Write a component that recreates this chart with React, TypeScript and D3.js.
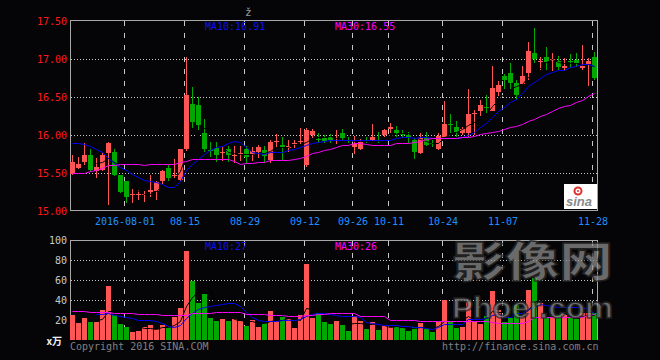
import React, { useEffect } from "react";
import * as d3 from "d3";

const dates = [
  "07-19","07-20","07-21","07-22","07-25","07-26","07-27","07-28","07-29",
  "08-01","08-02","08-03","08-04","08-05","08-08","08-09","08-10","08-11","08-12",
  "08-15","08-16","08-17","08-18","08-19","08-22","08-23","08-24","08-25","08-26",
  "08-29","08-30","08-31","09-01","09-02","09-05","09-06","09-07","09-08","09-09",
  "09-12","09-13","09-14","09-19","09-20","09-21","09-22","09-23",
  "09-26","09-27","09-28","09-29","09-30","10-10","10-11","10-12","10-13","10-14",
  "10-17","10-18","10-19","10-20","10-21","10-24","10-25","10-26","10-27","10-28",
  "10-31","11-01","11-02","11-03","11-04","11-07","11-08","11-09","11-10","11-11",
  "11-14","11-15","11-16","11-17","11-18","11-21","11-22","11-23","11-24","11-25","11-28",
];

const opens = [
  15.49,15.57,15.65,15.74,15.53,15.54,15.76,15.78,15.47,15.39,
  15.21,15.21,15.21,15.25,15.26,15.39,15.57,15.46,15.41,15.82,
  16.41,16.39,16.02,15.80,15.83,15.77,15.81,15.73,15.75,15.81,
  15.74,15.77,15.80,15.67,15.91,15.87,15.83,15.88,15.91,15.61,
  16.00,15.95,15.96,15.98,15.92,16.03,15.93,15.84,15.82,15.93,
  15.94,15.93,16.00,16.08,16.07,16.01,16.00,15.94,15.76,15.96,
  15.89,15.82,15.98,16.15,16.11,16.03,16.03,16.28,16.31,16.37,
  16.32,16.56,16.77,16.81,16.69,16.67,16.82,17.08,16.96,17.02,
  16.98,16.97,16.88,16.97,16.99,16.88,16.94,17.03,
];
const highs = [
  15.74,15.71,15.89,15.81,15.70,15.76,15.91,15.81,15.47,15.40,
  15.29,15.28,15.26,15.47,15.39,15.54,15.61,15.69,15.82,17.03,
  16.63,16.50,16.21,15.91,15.91,15.84,15.85,15.86,15.86,15.85,
  15.84,15.87,15.86,15.93,16.01,15.97,15.93,15.93,16.09,16.09,
  16.08,16.03,16.00,16.01,16.07,16.08,15.98,15.99,15.95,15.97,
  16.15,16.04,16.08,16.16,16.12,16.07,16.04,15.97,16.02,16.04,
  15.94,16.03,16.45,16.28,16.18,16.10,16.61,16.33,16.46,16.52,
  16.91,16.71,16.80,16.95,16.72,16.91,17.22,17.41,17.02,17.16,
  17.08,17.04,17.01,17.06,17.08,17.18,17.01,17.09,
];
const lows = [
  15.47,15.55,15.60,15.51,15.44,15.52,15.08,15.46,15.24,15.11,
  15.11,15.14,15.12,15.19,15.15,15.36,15.40,15.44,15.40,15.79,
  16.09,16.06,15.78,15.71,15.64,15.66,15.64,15.63,15.66,15.62,
  15.66,15.70,15.63,15.63,15.84,15.67,15.78,15.83,15.88,15.58,
  15.96,15.90,15.89,15.89,15.88,15.92,15.89,15.75,15.80,15.89,
  15.92,15.90,15.98,16.02,15.98,15.96,15.90,15.69,15.75,15.85,
  15.84,15.80,15.97,16.03,15.98,16.00,15.97,16.00,16.25,16.29,
  16.31,16.51,16.61,16.61,16.46,16.66,16.72,16.95,16.85,16.85,
  16.84,16.86,16.84,16.88,16.89,16.86,16.64,16.72,
];
const closes = [
  15.65,15.62,15.74,15.54,15.58,15.74,15.90,15.47,15.25,15.18,
  15.22,15.22,15.22,15.28,15.38,15.52,15.44,15.47,15.81,16.52,
  16.17,16.13,15.82,15.79,15.74,15.78,15.74,15.74,15.76,15.71,
  15.79,15.84,15.72,15.91,15.92,15.83,15.86,15.89,15.92,16.07,
  16.05,15.94,15.92,15.93,15.94,15.96,15.92,15.88,15.93,15.92,
  15.98,15.92,16.06,16.10,16.02,16.00,15.98,15.78,15.96,15.87,
  15.88,15.99,16.14,16.14,16.04,16.08,16.28,16.29,16.39,16.36,
  16.62,16.66,16.73,16.68,16.53,16.78,17.10,17.00,16.97,16.96,
  17.00,16.90,16.91,16.96,16.95,16.91,16.97,16.75,
];
const volumes = [
  25,17.3,22,18.3,18.3,30,54,25,16,13,
  8.3,9.3,13,15,11,15,13.3,22.7,32,89,
  59.3,37,46,22,19.3,21,19.3,21,19.3,14,
  20,13,16.7,29,19.3,23.3,21.3,12.3,24.7,76,
  22,27.3,18.3,16,19.3,15,9.3,24.3,19,11.3,
  18,10.3,14.3,13.3,13.3,12.3,9.3,13.3,17.3,11.3,
  8.3,18.3,40,18,12.3,13.3,38,18.3,16.3,24,
  49,30,18.3,22,35,22.7,50,62,36.7,22.7,
  22.7,25,26,22.7,21,26.7,26.7,26.7,
];
const ma10 = [
  15.89,15.89,15.88,15.86,15.82,15.77,15.70,15.63,15.58,15.54,
  15.49,15.45,15.41,15.39,15.38,15.35,15.32,15.32,15.39,15.54,
  15.62,15.69,15.75,15.80,15.84,15.86,15.89,15.92,15.91,15.84,
  15.78,15.76,15.75,15.77,15.77,15.78,15.80,15.81,15.84,15.87,
  15.89,15.91,15.92,15.93,15.94,15.94,15.94,15.93,15.93,15.93,
  15.93,15.93,15.93,15.94,15.96,15.97,15.97,15.96,15.97,15.97,
  15.96,15.96,15.96,15.96,15.96,15.97,16.00,16.04,16.11,16.16,
  16.24,16.32,16.37,16.43,16.48,16.55,16.64,16.70,16.75,16.80,
  16.83,16.85,16.86,16.89,16.91,16.94,16.93,16.91,
];
const ma30 = [
  15.50,15.50,15.50,15.52,15.54,15.57,15.60,15.61,15.62,15.62,
  15.62,15.62,15.61,15.62,15.62,15.62,15.62,15.62,15.65,15.66,
  15.68,15.68,15.68,15.68,15.68,15.68,15.68,15.66,15.62,15.63,
  15.63,15.64,15.64,15.67,15.67,15.67,15.67,15.68,15.70,15.73,
  15.76,15.78,15.80,15.82,15.84,15.87,15.87,15.89,15.90,15.88,
  15.87,15.87,15.87,15.87,15.89,15.89,15.90,15.91,15.92,15.95,
  15.96,15.96,15.96,15.96,15.96,15.97,15.98,15.99,16.01,16.02,
  16.04,16.05,16.08,16.11,16.12,16.14,16.18,16.21,16.25,16.28,
  16.32,16.35,16.38,16.40,16.44,16.46,16.51,16.55,
];
const volMa10 = [
  null,null,null,null,26,26,26.7,25.3,24,23.3,
  22,20,20,20,19.3,17.3,14,13.3,15.3,21.7,
  27.3,30.7,32.7,34,35,36,36.7,36.7,34,28.3,
  22.7,20,19.3,19.3,19.3,20,20,20,20.7,24,
  26,27.3,26.7,26,25,24,24,24,22.7,18.3,
  17.3,16,15,15,15,14.3,14,13.3,12.7,12,
  11.3,12.7,15.7,16.5,16.5,16.5,20.7,20.7,20.7,21.7,
  25,26.2,23.5,23.5,26.7,27.5,30.7,33.3,36,35,
  34,33.3,33.3,33.3,32.7,32.7,30.7,27.3,
];
const volMa30 = [
  29,29,29,28.3,28.3,28.3,28.3,27.3,27.3,27.3,
  27.3,26,26,26,26,24.7,24.7,24.7,24.7,25,
  27,27,27,27,28,28,28,28,28,26,
  26,26,26,25,25,25,24,24,24,25,
  25,26.3,26.3,26.7,26.7,26.7,26.7,26.7,24,24,
  24,24,24,20,20,20,20,20,19.3,19.3,
  19.3,19.3,19.5,19,19,19,19,18.8,18.8,18.5,
  18,17.5,17.5,17.5,17.5,17.5,18.5,22.7,22.7,22.7,
  22.7,22.7,23.5,23.5,23.5,23.5,25.5,26,
];

const priceTicks = [17.5, 17.0, 16.5, 16.0, 15.5, 15.0];
const priceGrid = [17.0, 16.5, 16.0, 15.5];
const volTicks = [100, 80, 60, 40, 20];
const volGrid = [80, 60, 40];
const dateTicks = ["08-01", "08-15", "08-29", "09-12", "09-26", "10-11", "10-24", "11-07", "11-28"];
const dateTickLabels = ["2016-08-01", "08-15", "08-29", "09-12", "09-26", "10-11", "10-24", "11-07", "11-28"];

const UP = "#ff5555";
const DOWN = "#00a800";
const BG = "#050508";
const MONO = "DejaVu Sans Mono, Liberation Mono, monospace";

export default function App() {
  useEffect(() => {
    document.body.style.margin = "0";
    document.body.style.background = BG;
  }, []);

  const x = d3.scaleBand<string>().domain(dates).range([70, 597]).paddingInner(1 / 6).paddingOuter(0).round(true);
  const bw = x.bandwidth();
  const y = d3.scaleLinear().domain([15, 17.5]).range([211, 21]);
  const yv = d3.scaleLinear().domain([0, 100]).range([340, 240]);

  const cx = (i: number) => (x(dates[i]) as number) + Math.floor(bw / 2) + 0.5;

  const ma5 = closes.map((_, i) => (i < 4 ? null : d3.mean(closes.slice(i - 4, i + 1)) as number));
  const vma5 = volumes.map((_, i) => (i < 4 ? null : d3.mean(volumes.slice(i - 4, i + 1)) as number));

  const pLine = d3
    .line<number | null>()
    .defined((d) => d != null)
    .x((_, i) => cx(i))
    .y((d) => Math.round(y(d as number)) + 0.5);
  const vLine = d3
    .line<number | null>()
    .defined((d) => d != null)
    .x((_, i) => cx(i))
    .y((d) => Math.round(yv(d as number)) + 0.5);

  return (
    <svg width={660} height={360} style={{ position: "absolute", left: 0, top: 0, display: "block" }} fontFamily={MONO}>
      <rect x={0} y={0} width={660} height={360} fill={BG} />

      {/* grids */}
      <g stroke="#c8c8c8" strokeWidth={1} shapeRendering="crispEdges">
        {priceGrid.map((v) => (
          <line key={v} x1={71} x2={597} y1={Math.round(y(v)) + 0.5} y2={Math.round(y(v)) + 0.5} strokeDasharray="1,2" />
        ))}
        {dateTicks.map((d) => (
          <line key={d} x1={(x(d) as number) + 0.5} x2={(x(d) as number) + 0.5} y1={21} y2={211} strokeDasharray="5,7" />
        ))}
        {volGrid.map((v) => (
          <line key={v} x1={71} x2={597} y1={yv(v) + 0.5} y2={yv(v) + 0.5} strokeDasharray="1,2" />
        ))}
        {dateTicks.map((d) => (
          <line key={"v" + d} x1={(x(d) as number) + 0.5} x2={(x(d) as number) + 0.5} y1={241} y2={340} strokeDasharray="5,7" />
        ))}
      </g>

      {/* frames */}
      <g stroke="#a8a8a8" strokeWidth={1} fill="none" shapeRendering="crispEdges">
        <path d="M70.5,211 V20.5 H597.5 V211" />
        <line x1={70} x2={598} y1={210.5} y2={210.5} />
        <path d="M70.5,340 V240.5 H597.5 V340" />
      </g>

      {/* sina logo */}
      <g>
        <rect x={564} y={184} width={33} height={25} fill="#ffffff" />
        <circle cx={578} cy={191} r={3.5} fill="none" stroke="#e03030" strokeWidth={2} />
        <circle cx={578} cy={191} r={1} fill="#e03030" />
        <text x={566} y={206} fontFamily="Liberation Sans, Arial, sans-serif" fontStyle="italic" fontWeight={700} fontSize={13} fill="#8a8a8a">sina</text>
      </g>

      {/* candles */}
      <g shapeRendering="crispEdges">
        {dates.map((d, i) => {
          const o = opens[i], c = closes[i], h = highs[i], l = lows[i];
          const col = c >= o ? UP : DOWN;
          const x0 = x(d) as number;
          const top = Math.round(y(Math.max(o, c)));
          const bot = Math.round(y(Math.min(o, c)));
          return (
            <g key={d}>
              <rect x={x0 + 2} y={Math.round(y(h))} width={1} height={Math.max(1, Math.round(y(l)) - Math.round(y(h)))} fill={col} />
              <rect x={x0} y={top} width={bw} height={Math.max(1, bot - top)} fill={col} />
            </g>
          );
        })}
      </g>

      {/* price MAs */}
      <path d={pLine(ma5) || ""} fill="none" stroke="#000000" strokeWidth={1} />
      <path d={pLine(ma10) || ""} fill="none" stroke="#0000ff" strokeWidth={1} />
      <path d={pLine(ma30) || ""} fill="none" stroke="#ff00ff" strokeWidth={1} />

      {/* volume bars */}
      <g shapeRendering="crispEdges">
        {dates.map((d, i) => (
          <rect
            key={d}
            x={x(d) as number}
            y={Math.round(yv(volumes[i]))}
            width={bw}
            height={340 - Math.round(yv(volumes[i]))}
            fill={closes[i] >= opens[i] ? UP : DOWN}
          />
        ))}
      </g>
      <path d={vLine(vma5) || ""} fill="none" stroke="#000000" strokeWidth={1} />
      <path d={vLine(volMa10) || ""} fill="none" stroke="#0000ff" strokeWidth={1} />
      <path d={vLine(volMa30) || ""} fill="none" stroke="#ff00ff" strokeWidth={1} />

      {/* axis labels */}
      <g fontSize={10} fill="#ff1a1a" textAnchor="end">
        {priceTicks.map((v) => (
          <text key={v} x={67} y={Math.round(y(v)) + 4}>{v.toFixed(2)}</text>
        ))}
      </g>
      <g fontSize={10} fill="#c8c8c8" textAnchor="end">
        {volTicks.map((v) => (
          <text key={v} x={67} y={yv(v) + 4}>{v}</text>
        ))}
      </g>
      <g fontSize={10} fill="#1e90ff" textAnchor="middle">
        {dateTicks.map((d, k) => (
          <text key={d} x={(x(d) as number) + 1} y={225}>{dateTickLabels[k]}</text>
        ))}
      </g>

      {/* MA legends */}
      <text x={205} y={30} fontSize={10} fill="#1010f0">{`MA10:${ma10[ma10.length - 1].toFixed(2)}`}</text>
      <text x={335} y={30} fontSize={10} fill="#ff00ff">{`MA30:${ma30[ma30.length - 1].toFixed(2)}`}</text>
      <text x={205} y={250} fontSize={10} fill="#1010f0">{`MA10:${Math.round(volMa10[volMa10.length - 1] as number)}`}</text>
      <text x={335} y={250} fontSize={10} fill="#ff00ff">{`MA30:${Math.round(volMa30[volMa30.length - 1])}`}</text>

      {/* misc text */}
      <text x={245} y={16} fontSize={11} fill="#9a9a9a">ž</text>
      <text x={62} y={345} fontSize={10} fontWeight={700} fill="#f0f0f0" textAnchor="end" fontFamily="Noto Sans CJK SC, sans-serif">x万</text>
      <text x={70} y={350} fontSize={10} fill="#808080">Copyright 2016 SINA.COM</text>
      <text x={442} y={350} fontSize={10} fill="#808080">http://finance.sina.com.cn</text>

      {/* watermark */}
      <g opacity={0.75} fill="#8c8c8c" stroke="#2a2a2a" strokeWidth={1.5}>
        <text x={452} y={277} fontSize={42} fontWeight={900} fontFamily="Noto Sans CJK SC, sans-serif" textLength={161} lengthAdjust="spacingAndGlyphs">影像网</text>
        <text x={452} y={318} fontSize={30} fontWeight={700} fontFamily="Liberation Sans, Arial, sans-serif" textLength={161} lengthAdjust="spacingAndGlyphs">Phoer.com</text>
      </g>
    </svg>
  );
}
